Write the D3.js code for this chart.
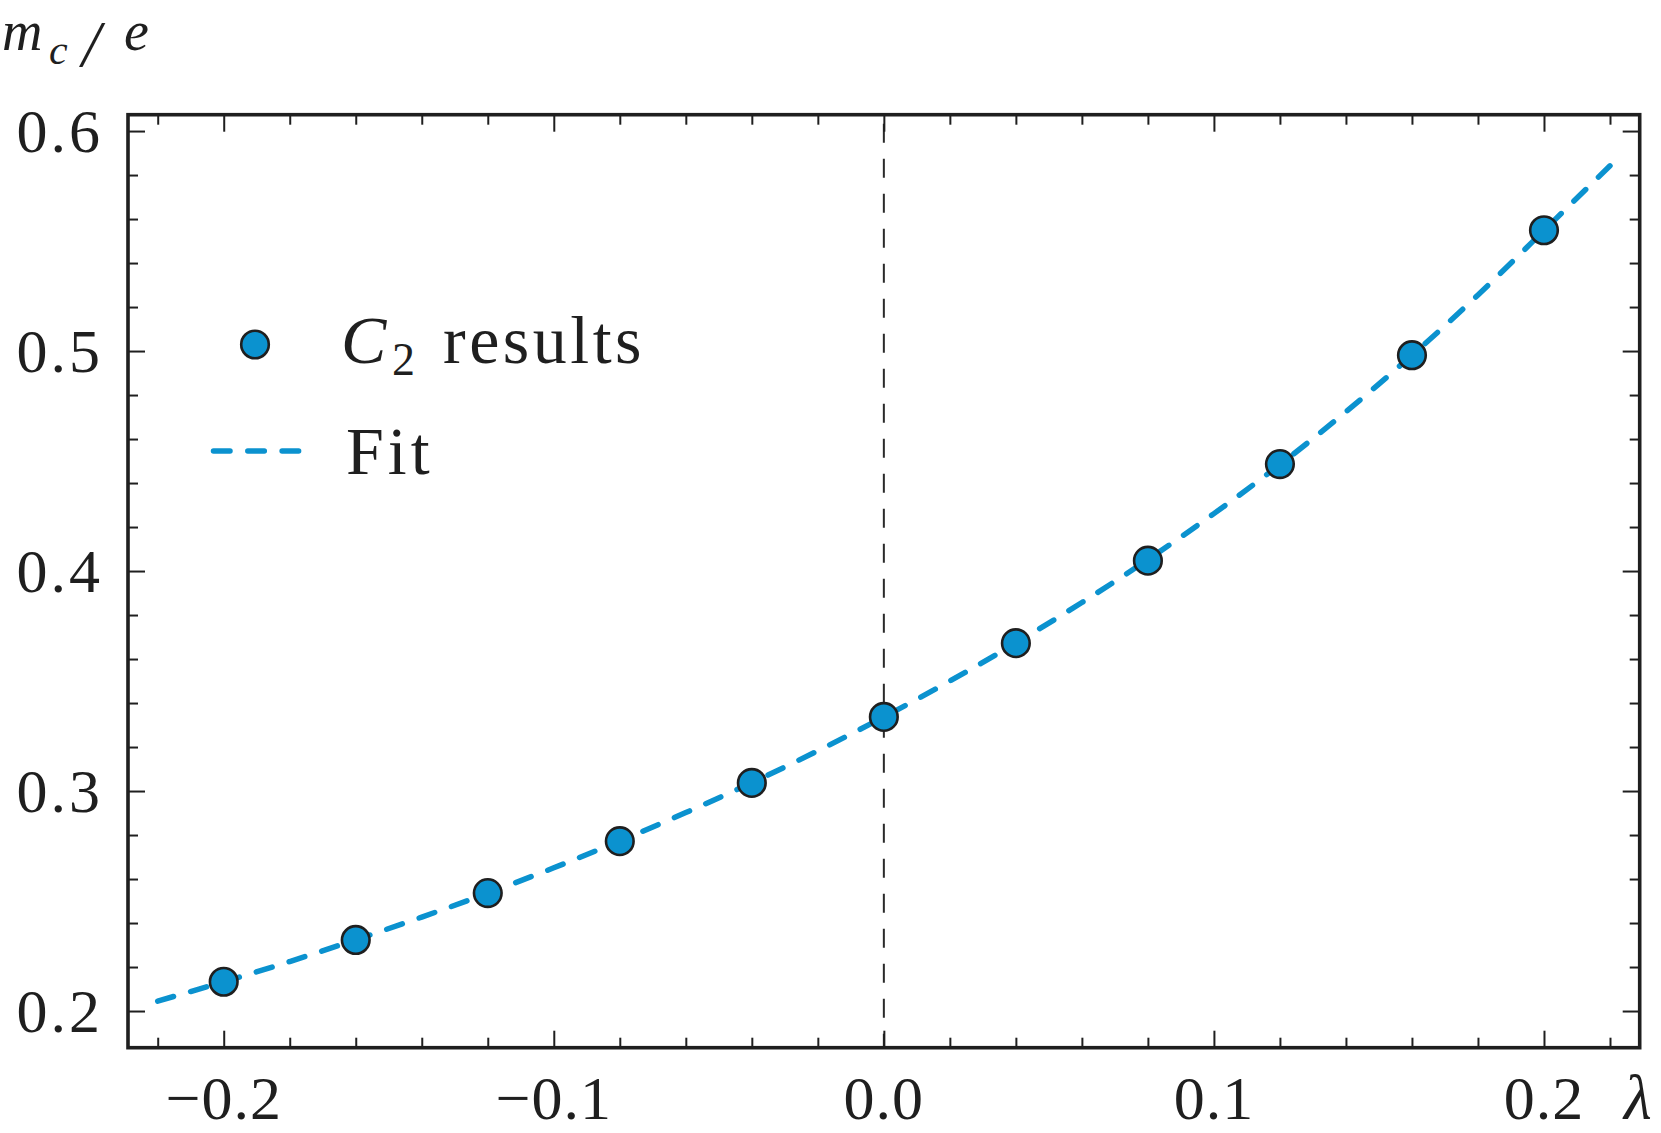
<!DOCTYPE html>
<html>
<head>
<meta charset="utf-8">
<script src="https://cdn.jsdelivr.net/npm/d3@7"></script>
<style>
  html, body { margin: 0; padding: 0; background: #ffffff; }
  svg { display: block; }
  text { font-family: "Liberation Serif", "DejaVu Serif", serif; fill: #1f1f1f; }
</style>
</head>
<body>
<svg id="chart" width="1661" height="1133"></svg>
<script>
// ---- data ----
const lambdaValues = [-0.2, -0.16, -0.12, -0.08, -0.04, 0.0, 0.04, 0.08, 0.12, 0.16, 0.2];
const c2Results    = [0.2133, 0.2323, 0.2536, 0.2772, 0.3037, 0.3337, 0.3672, 0.4047, 0.4486, 0.4981, 0.5549];

const fitLambda = [-0.22, -0.2, -0.18, -0.16, -0.14, -0.12, -0.1, -0.08, -0.06, -0.04, -0.02, 0.0,
                   0.02, 0.04, 0.06, 0.08, 0.1, 0.12, 0.14, 0.16, 0.18, 0.2, 0.22];
const fitValues = [0.2045, 0.2133, 0.2225, 0.2324, 0.2427, 0.2536, 0.2651, 0.2773, 0.2902, 0.3038, 0.3183, 0.3337,
                   0.3500, 0.3673, 0.3857, 0.4052, 0.4261, 0.4484, 0.4724, 0.4981, 0.5255, 0.5548, 0.5842];

const xMajorTicks = [-0.2, -0.1, 0.0, 0.1, 0.2];
const xTickLabels = ["\u22120.2", "\u22120.1", "0.0", "0.1", "0.2"];
const yMajorTicks = [0.2, 0.3, 0.4, 0.5, 0.6];
const yTickLabels = ["0.2", "0.3", "0.4", "0.5", "0.6"];
const legendLabels = ["results", "Fit"];

// ---- layout ----
const blue = "#0b92cf";
const ink = "#1f1f1f";
const x = d3.scaleLinear().domain([-0.229, 0.229]).range([128, 1639.7]);
const y = d3.scaleLinear().domain([0.18333, 0.60743]).range([1047.7, 114.7]);
const [x0, x1] = x.range();
const [yb, yt] = y.range();

const svg = d3.select("#chart");

// minor tick values (every 0.02)
const xMinor = d3.range(-22, 23, 2).map(v => v / 100).filter(v => !xMajorTicks.some(t => Math.abs(t - v) < 1e-9));
const yMinor = d3.range(20, 61, 2).map(v => v / 100).filter(v => v > 0.1834 && v < 0.607 && !yMajorTicks.some(t => Math.abs(t - v) < 1e-9));

// vertical dashed line at lambda = 0
svg.append("path")
  .attr("d", `M${x(0)},${yb}L${x(0)},${yt}`)
  .attr("stroke", "#2a2a2a").attr("stroke-width", 2)
  .attr("stroke-dasharray", "19,16").attr("stroke-dashoffset", 5)
  .attr("fill", "none");

// fit line
const line = d3.line().x(d => x(d[0])).y(d => y(d[1])).curve(d3.curveNatural);
svg.append("path")
  .datum(d3.zip(fitLambda, fitValues))
  .attr("d", line)
  .attr("fill", "none")
  .attr("stroke", blue).attr("stroke-width", 5.5)
  .attr("stroke-linecap", "round")
  .attr("stroke-dasharray", "16.5,17.8");

// data markers
svg.append("g").selectAll("circle")
  .data(d3.zip(lambdaValues, c2Results))
  .join("circle")
  .attr("cx", d => x(d[0])).attr("cy", d => y(d[1]))
  .attr("r", 13.8)
  .attr("fill", blue).attr("stroke", ink).attr("stroke-width", 2.6);

// axes with inward ticks on all four sides
function tickAxis(axisGen, scale, ticks, len, transform) {
  const g = svg.append("g").attr("transform", transform)
    .call(axisGen(scale).tickValues(ticks).tickSize(-len).tickFormat(""));
  g.select(".domain").remove();
  g.selectAll(".tick line").attr("stroke", ink).attr("stroke-width", 2);
  return g;
}
const majLen = 17, minLen = 10;
tickAxis(d3.axisBottom, x, xMajorTicks, majLen, `translate(0,${yb})`);
tickAxis(d3.axisBottom, x, xMinor, minLen, `translate(0,${yb})`);
tickAxis(d3.axisTop, x, xMajorTicks, majLen, `translate(0,${yt})`);
tickAxis(d3.axisTop, x, xMinor, minLen, `translate(0,${yt})`);
tickAxis(d3.axisLeft, y, yMajorTicks, majLen, `translate(${x0},0)`);
tickAxis(d3.axisLeft, y, yMinor, minLen, `translate(${x0},0)`);
tickAxis(d3.axisRight, y, yMajorTicks, majLen, `translate(${x1},0)`);
tickAxis(d3.axisRight, y, yMinor, minLen, `translate(${x1},0)`);

// frame
svg.append("rect")
  .attr("x", x0).attr("y", yt).attr("width", x1 - x0).attr("height", yb - yt)
  .attr("fill", "none").attr("stroke", ink).attr("stroke-width", 3.6);

// tick labels
const fs = 62;
svg.append("g").selectAll("text")
  .data(xMajorTicks)
  .join("text")
  .attr("x", d => x(d)).attr("y", 1119)
  .attr("text-anchor", "middle")
  .attr("font-size", fs).attr("letter-spacing", 1)
  .text((d, i) => xTickLabels[i]);

svg.append("g").selectAll("text")
  .data(yMajorTicks)
  .join("text")
  .attr("x", 103).attr("y", d => y(d) + 21)
  .attr("text-anchor", "end")
  .attr("font-size", fs).attr("letter-spacing", 3)
  .text((d, i) => yTickLabels[i]);

// axis labels
svg.append("text")
  .attr("x", 1624).attr("y", 1119)
  .attr("font-size", 64).attr("font-style", "italic")
  .text("\u03bb");

// y-axis label m_c / e
const ylab = svg.append("g").attr("font-style", "italic");
ylab.append("text").attr("x", 2).attr("y", 50).attr("font-size", 56).text("m");
ylab.append("text").attr("x", 49).attr("y", 64).attr("font-size", 42).text("c");
ylab.append("text").attr("x", 82).attr("y", 66).attr("font-size", 66).text("/");
ylab.append("text").attr("x", 124).attr("y", 50).attr("font-size", 56).text("e");

// legend
svg.append("circle")
  .attr("cx", 255).attr("cy", 344.5).attr("r", 13.8)
  .attr("fill", blue).attr("stroke", ink).attr("stroke-width", 2.6);
svg.append("path")
  .attr("d", "M213.5,451L300.8,451")
  .attr("stroke", blue).attr("stroke-width", 5.5)
  .attr("stroke-linecap", "round").attr("stroke-dasharray", "16.5,17.8");

const lt = svg.append("text").attr("y", 363).attr("font-size", 68);
lt.append("tspan").attr("x", 341).attr("font-style", "italic").text("C");
lt.append("tspan").attr("x", 392).attr("font-size", 46).attr("dy", 12).text("2");
lt.append("tspan").attr("x", 443).attr("dy", -12).attr("letter-spacing", 3.5).text(legendLabels[0]);

svg.append("text").attr("x", 346).attr("y", 474).attr("font-size", 68)
  .attr("letter-spacing", 4).text(legendLabels[1]);
</script>
</body>
</html>
